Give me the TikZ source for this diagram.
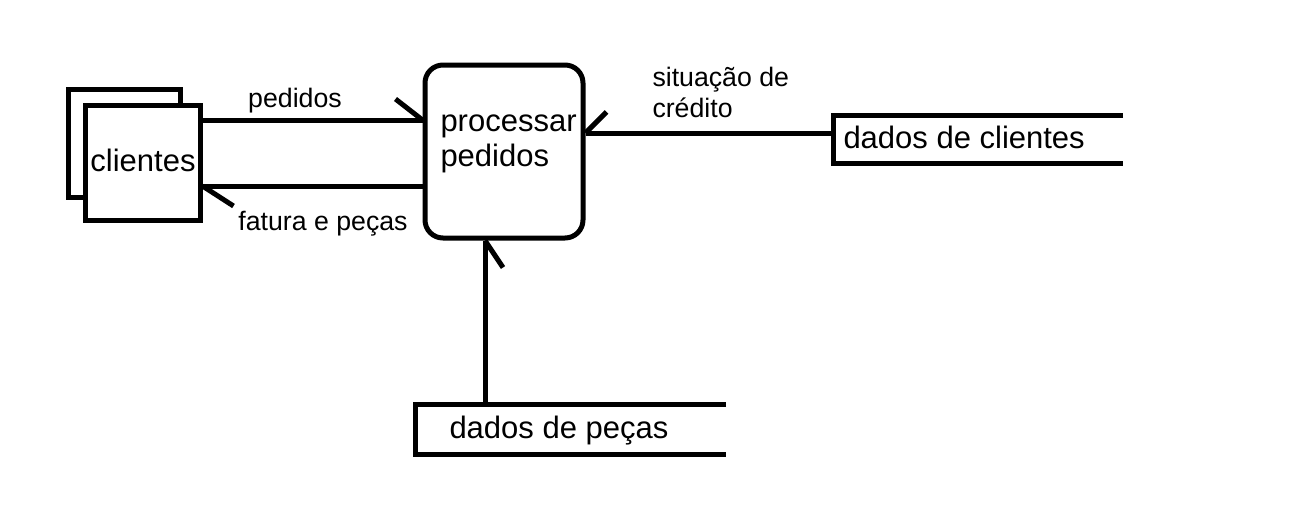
\documentclass[tikz,border=0pt]{standalone}
\usepackage{fontspec}
\setmainfont{Liberation Sans}
\begin{document}
\begin{tikzpicture}[x=1pt,y=-1pt,line width=5pt,
  big/.style={font=\fontsize{31}{36}\selectfont,inner sep=0pt},
  small/.style={font=\fontsize{26.7}{31}\selectfont,inner sep=0pt},
  entity/.style={draw,fill=white,inner sep=0pt},
  store/.style={inner sep=0pt},
  halfhead/.style={line cap=butt}]
\useasboundingbox (0,0) rectangle (1301,515);
% external entity (doubled box)
\node[entity,minimum width=112,minimum height=108] (cliback) at (124,143) {};
\node[entity,minimum width=115,minimum height=115] (cli) at (142.5,162.5) {};
\node[big,anchor=base] (clitext) at (143,171) {clientes};
% process
\node[draw,rounded corners=18pt,minimum width=158,minimum height=173,inner sep=0pt] (proc) at (504,151.5) {};
\node[big,anchor=base west] (proctext1) at (438,131) {processar};
\node[big,anchor=base west] (proctext2) at (438,166) {pedidos};
% data stores
\node[store,minimum width=285,minimum height=43,anchor=north west] (dc) at (833,115) {};
\draw (dc.north east) -- (dc.north west) -- (dc.south west) -- (dc.south east);
\node[big,anchor=base west] (dctext) at (841,148) {dados de clientes};
\node[store,minimum width=306,minimum height=45,anchor=north west] (dp) at (415,404) {};
\draw (dp.north east) -- (dp.north west) -- (dp.south west) -- (dp.south east);
\node[big,anchor=base west] (dptext) at (447,438) {dados de peças};
% flows
\coordinate (a1) at (proc.west |- 0,120);
\coordinate (a2) at (cli.east |- 0,186);
\coordinate (a3) at (proc.east |- 0,133);
\coordinate (a4) at (proc.south -| 485,0);
\draw (cli.east |- 0,120) -- (a1);
\draw[halfhead] (a1) -- ++(-27,-21);
\node[small,anchor=base] (lab1) at (295,107) {pedidos};
\draw (proc.west |- 0,186) -- (a2);
\draw[halfhead] (a2) -- ++(31,20);
\node[small,anchor=base] (lab2) at (323,230) {fatura e peças};
\draw (dc.west |- 0,133) -- (a3);
\draw[halfhead] (a3) -- ++(21,-21);
\node[small,anchor=base west] (lab3) at (650,86) {situação de};
\node[small,anchor=base west] (lab3b) at (650,117) {crédito};
\draw (dp.north -| 485,0) -- (a4);
\draw[halfhead] (a4) -- ++(18,27);
\end{tikzpicture}
\end{document}
